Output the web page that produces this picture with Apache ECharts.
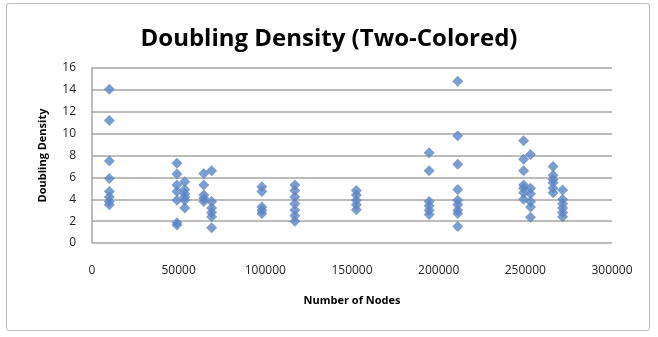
<!DOCTYPE html>
<html>
<head>
<meta charset="utf-8">
<script src="https://cdn.jsdelivr.net/npm/echarts@6/dist/echarts.min.js"></script>
<style>
html,body{margin:0;padding:0;background:#fff;}
#frame{position:absolute;left:6px;top:3px;width:644px;height:328px;border:1.5px solid #bdbdbd;border-radius:3px;box-sizing:border-box;}
#chart{position:absolute;left:0;top:0;width:658px;height:337px;}
</style>
</head>
<body>
<div id="frame"></div>
<div id="chart"></div>
<script>
const titleText = "Doubling Density (Two-Colored)";
const xAxisName = "Number of Nodes";
const yAxisName = "Doubling Density";

// node counts of each cluster of points
const nodeCounts = [10000, 49000, 53500, 64500, 69000, 98000, 117000, 152500, 194500, 211000, 249000, 253000, 266000, 271500];
// doubling density values at each node count
const densities = [
  [14.05, 11.2, 7.5, 5.9, 4.7, 4.2, 3.8, 3.5],
  [7.3, 6.3, 5.3, 4.7, 3.9, 1.85, 1.65],
  [5.6, 4.9, 4.5, 4.2, 3.9, 3.2],
  [6.35, 5.3, 4.4, 4.1, 3.8],
  [6.6, 3.8, 3.2, 2.8, 2.4, 1.4],
  [5.15, 4.7, 3.3, 3.0, 2.7],
  [5.3, 4.8, 4.2, 3.6, 3.0, 2.5, 2.0],
  [4.8, 4.4, 3.9, 3.5, 3.05],
  [8.25, 6.6, 3.8, 3.4, 3.0, 2.6],
  [14.8, 9.8, 7.2, 4.9, 3.9, 3.5, 3.0, 2.7, 1.5],
  [9.35, 7.65, 6.6, 5.3, 5.0, 4.6, 4.0],
  [8.1, 5.0, 4.5, 3.8, 3.3, 2.35],
  [7.0, 6.2, 5.8, 5.5, 5.0, 4.6],
  [4.85, 4.0, 3.6, 3.2, 2.8, 2.4]
];

const points = [];
nodeCounts.forEach((x, i) => densities[i].forEach(y => points.push([x, y])));

const chart = echarts.init(document.getElementById('chart'), null, {renderer: 'canvas'});
const font = '"Open Sans", "Liberation Sans", sans-serif';
chart.setOption({
  animation: false,
  title: {
    text: titleText,
    left: 'center',
    top: 22,
    textStyle: {fontFamily: font, fontSize: 24, fontWeight: 'bold', color: '#000'}
  },
  grid: {left: 92, right: 46, top: 68, bottom: 94},
  xAxis: {
    type: 'value',
    min: 0, max: 300000, interval: 50000,
    name: xAxisName,
    nameLocation: 'middle',
    nameGap: 52,
    nameTextStyle: {fontFamily: font, fontSize: 11, fontWeight: 'bold', color: '#000'},
    axisLine: {show: false},
    axisTick: {show: false},
    splitLine: {show: false},
    axisLabel: {fontFamily: font, fontSize: 12, color: '#222', margin: 22, formatter: v => String(v)}
  },
  yAxis: {
    type: 'value',
    min: 0, max: 16, interval: 2,
    name: yAxisName,
    nameLocation: 'middle',
    nameGap: 44,
    nameTextStyle: {fontFamily: font, fontSize: 11, fontWeight: 'bold', color: '#000'},
    axisLine: {show: true, lineStyle: {color: '#a6a6a6', width: 1.5}},
    axisTick: {show: false},
    splitLine: {show: true, lineStyle: {color: '#a6a6a6', width: 1.5}},
    axisLabel: {fontFamily: font, fontSize: 12, color: '#222', margin: 16}
  },
  series: [{
    type: 'scatter',
    symbol: 'diamond',
    symbolSize: 11,
    itemStyle: {color: '#5a84c4'},
    data: points
  }]
});
</script>
</body>
</html>
